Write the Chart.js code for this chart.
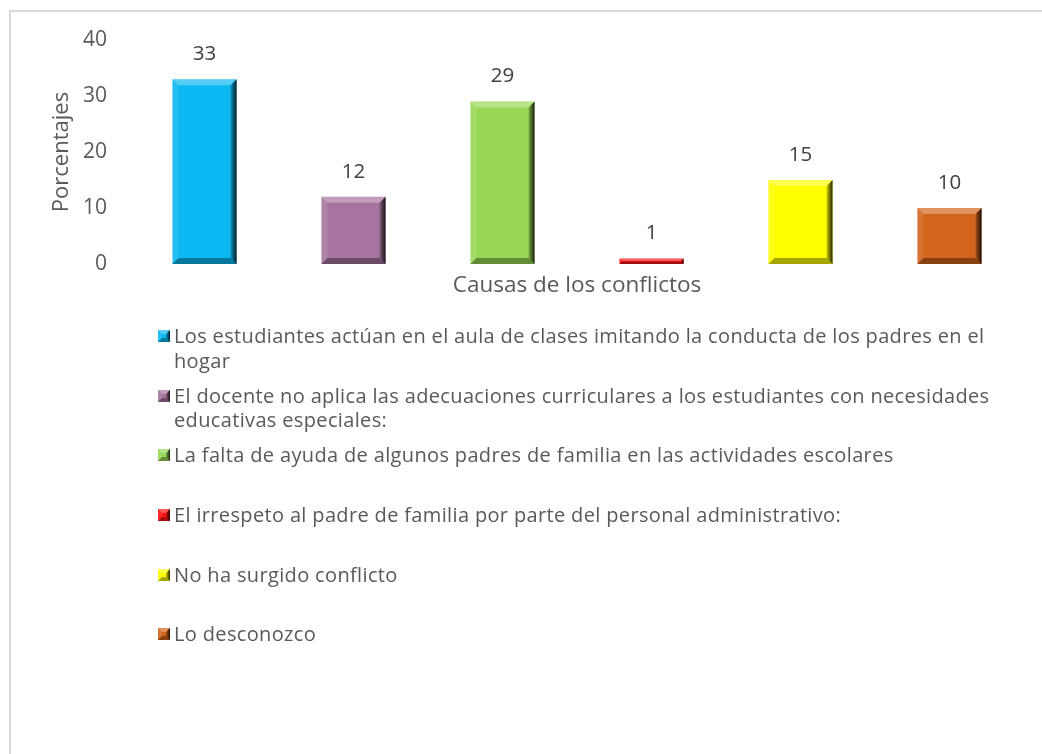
<!DOCTYPE html>
<html>
<head>
<meta charset="utf-8">
<script src="https://cdn.jsdelivr.net/npm/chart.js@4"></script>
<style>
  body { margin: 0; background: #fff; width: 1042px; height: 754px; overflow: hidden; position: relative; font-family: "Open Sans", sans-serif; }
  #frame { position: absolute; left: 9px; top: 10px; right: 0; bottom: 0; border-top: 2px solid #d9d9d9; border-left: 2px solid #d9d9d9; }
  #chart { position: absolute; left: 0; top: 0; }
  #legend { position: absolute; left: 158px; top: 324px; }
  .item { display: flex; align-items: flex-start; height: 59.7px; }
  .item canvas { margin-top: 6px; margin-right: 4px; flex: none; }
  .item span { width: 835px; font-size: 20px; letter-spacing: 0.35px; line-height: 24.5px; color: #595959; }
</style>
</head>
<body>
<div id="frame"></div>
<canvas id="chart" width="1042" height="310"></canvas>
<div id="legend"></div>
<script>
const categories = [
  'Los estudiantes actúan en el aula de clases imitando la conducta de los padres en el hogar',
  'El docente no aplica las adecuaciones curriculares a los estudiantes con necesidades educativas especiales:',
  'La falta de ayuda de algunos padres de familia en las actividades escolares',
  'El irrespeto al padre de familia por parte del personal administrativo:',
  'No ha surgido conflicto',
  'Lo desconozco',
];
const values = [33, 12, 29, 1, 15, 10];
const colors = ['#0cb8f1', '#a6749f', '#99d857', '#ff1010', '#ffff00', '#d3641b'];
const yTicks = [0, 10, 20, 30, 40];
const yTitle = 'Porcentajes';
const xTitle = 'Causas de los conflictos';

const textcolor = '#595959';
const fontfamily = '"Open Sans"';

function poly(ctx, pts, fill) {
  ctx.beginPath();
  ctx.moveTo(pts[0][0], pts[0][1]);
  for (let i = 1; i < pts.length; i++) ctx.lineTo(pts[i][0], pts[i][1]);
  ctx.closePath();
  ctx.fillStyle = fill;
  ctx.fill();
}

// bisel tipo Excel sobre un rectángulo
function drawBevel(ctx, l, t, r, b, w) {
  w = Math.min(w, (r - l) / 2, (b - t) / 2);
  ctx.save();
  poly(ctx, [[l, t], [r, t], [r - w, t + w], [l + w, t + w]], 'rgba(255,255,255,0.3)');
  poly(ctx, [[l, t], [l + w, t + w], [l + w, b - w], [l, b]], 'rgba(255,255,255,0.1)');
  poly(ctx, [[l, b], [r, b], [r - w, b - w], [l + w, b - w]], 'rgba(0,0,0,0.35)');
  const g = ctx.createLinearGradient(r - w, 0, r, 0);
  g.addColorStop(0, 'rgba(0,0,0,0.2)');
  g.addColorStop(1, 'rgba(0,0,0,0.85)');
  poly(ctx, [[r, t], [r, b], [r - w, b - w], [r - w, t + w]], g);
  ctx.restore();
}

const bevelPlugin = {
  id: 'bevel',
  afterDatasetsDraw(chart) {
    const ctx = chart.ctx;
    chart.data.datasets.forEach((ds, i) => {
      chart.getDatasetMeta(i).data.forEach((bar, j) => {
        if (ds.data[j] == null) return;
        const p = bar.getProps(['x', 'y', 'base', 'width'], true);
        drawBevel(ctx, p.x - p.width / 2, p.y, p.x + p.width / 2, p.base, 6);

        ctx.save();
        ctx.font = `20.5px ${fontfamily}`;
        ctx.fillStyle = '#404040';
        ctx.textAlign = 'center';
        ctx.textBaseline = 'middle';
        ctx.fillText(String(ds.data[j]), p.x, p.y - 25);
        ctx.restore();
      });
    });
  },
};

const datasets = categories.map((name, i) => ({
  label: name,
  data: values.map((v, j) => (j === i ? v : null)),
  backgroundColor: colors[i],
  borderWidth: 0,
}));

const chart = new Chart(document.getElementById('chart'), {
  type: 'bar',
  data: { labels: categories, datasets: datasets },
  options: {
    responsive: false,
    animation: false,
    devicePixelRatio: 1,
    skipNull: true,
    categoryPercentage: 1.0,
    barPercentage: 0.43,
    layout: { padding: { top: 40, left: 49, right: 18, bottom: 0 } },
    scales: {
      x: {
        grid: { display: false, drawTicks: false },
        border: { display: false },
        ticks: { display: false },
        title: {
          display: true, text: xTitle, color: textcolor,
          font: { family: fontfamily, size: 22.5 },
          padding: { top: 0, bottom: 11 },
        },
        afterFit: (scale) => { scale.height = 46; },
      },
      y: {
        min: yTicks[0],
        max: yTicks[yTicks.length - 1],
        afterBuildTicks: (scale) => { scale.ticks = yTicks.map((v) => ({ value: v })); },
        grid: { display: false, drawTicks: false },
        border: { display: false },
        ticks: { color: textcolor, padding: 23, font: { family: fontfamily, size: 21 } },
        title: {
          display: true, text: yTitle, color: textcolor,
          font: { family: fontfamily, size: 22 },
          padding: { top: 0, bottom: 0 },
        },
        afterFit: (scale) => { scale.width = 81; },
      },
    },
    plugins: {
      legend: { display: false },
      tooltip: { enabled: false },
    },
  },
  plugins: [bevelPlugin],
});

// leyenda en HTML, con el marcador biselado
const legend = document.getElementById('legend');
chart.data.datasets.forEach((ds) => {
  const item = document.createElement('div');
  item.className = 'item';
  const mark = document.createElement('canvas');
  mark.width = 12;
  mark.height = 12;
  const mctx = mark.getContext('2d');
  mctx.fillStyle = ds.backgroundColor;
  mctx.fillRect(0, 0, 12, 12);
  drawBevel(mctx, 0, 0, 12, 12, 4);
  const text = document.createElement('span');
  text.textContent = ds.label;
  item.appendChild(mark);
  item.appendChild(text);
  legend.appendChild(item);
});
</script>
</body>
</html>
